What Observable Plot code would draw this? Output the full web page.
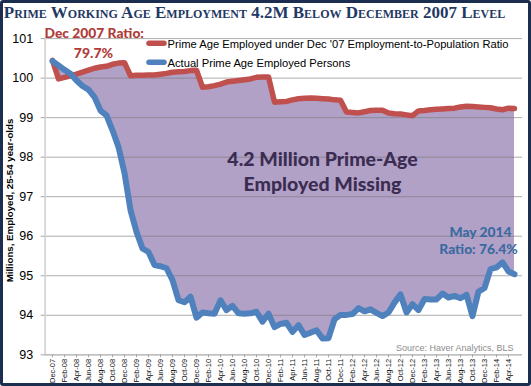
<!DOCTYPE html>
<html><head><meta charset="utf-8">
<script src="https://cdn.jsdelivr.net/npm/d3@7"></script>
<script src="https://cdn.jsdelivr.net/npm/@observablehq/plot@0.6"></script>
<style>
body{margin:0;background:#fff;}
#wrap{position:relative;width:531px;height:386px;overflow:hidden;}
#border{position:absolute;left:0;top:0;width:531px;height:386px;box-sizing:border-box;border:3px solid #1c2e50;border-radius:3px;pointer-events:none;}
</style></head><body>
<div id="wrap"><div id="chart"></div><div id="border"></div></div>
<script>
const months = ["Dec-07",
 "Jan-08","Feb-08","Mar-08","Apr-08","May-08","Jun-08","Jul-08","Aug-08","Sep-08","Oct-08","Nov-08","Dec-08",
 "Jan-09","Feb-09","Mar-09","Apr-09","May-09","Jun-09","Jul-09","Aug-09","Sep-09","Oct-09","Nov-09","Dec-09",
 "Jan-10","Feb-10","Mar-10","Apr-10","May-10","Jun-10","Jul-10","Aug-10","Sep-10","Oct-10","Nov-10","Dec-10",
 "Jan-11","Feb-11","Mar-11","Apr-11","May-11","Jun-11","Jul-11","Aug-11","Sep-11","Oct-11","Nov-11","Dec-11",
 "Jan-12","Feb-12","Mar-12","Apr-12","May-12","Jun-12","Jul-12","Aug-12","Sep-12","Oct-12","Nov-12","Dec-12",
 "Jan-13","Feb-13","Mar-13","Apr-13","May-13","Jun-13","Jul-13","Aug-13","Sep-13","Oct-13","Nov-13","Dec-13",
 "Jan-14","Feb-14","Mar-14","Apr-14","May-14"];

const tickLabels = ["Dec-07","Feb-08","Apr-08","Jun-08","Aug-08","Oct-08","Dec-08","Feb-09","Apr-09","Jun-09",
 "Aug-09","Oct-09","Dec-09","Feb-10","Apr-10","Jun-10","Aug-10","Oct-10","Dec-10","Feb-11","Apr-11","Jun-11",
 "Aug-11","Oct-11","Dec-11","Feb-12","Apr-12","Jun-12","Aug-12","Oct-12","Dec-12","Feb-13","Apr-13","Jun-13",
 "Aug-13","Oct-13","Dec-13","Feb-14","Apr-14"];

// Prime Age Employed under Dec '07 Employment-to-Population Ratio (millions)
const ratioSeries = [100.45,
 99.98,100.02,100.06,100.10,100.15,100.20,100.25,100.28,100.30,100.35,100.38,100.39,
 100.06,100.07,100.07,100.08,100.08,100.10,100.12,100.15,100.16,100.17,100.19,100.20,
 99.77,99.78,99.81,99.85,99.90,99.92,99.94,99.96,99.98,100.02,100.03,100.03,
 99.39,99.40,99.41,99.45,99.48,99.49,99.50,99.49,99.48,99.47,99.45,99.44,
 99.14,99.13,99.12,99.15,99.18,99.19,99.19,99.12,99.10,99.09,99.07,99.05,
 99.17,99.18,99.20,99.21,99.22,99.23,99.24,99.27,99.29,99.28,99.27,99.26,
 99.25,99.22,99.20,99.24,99.23];

// Actual Prime Age Employed Persons (millions)
const actualSeries = [100.43,
 100.32,100.21,100.11,99.94,99.80,99.71,99.52,99.18,99.06,98.68,98.26,97.60,
 96.66,96.11,95.69,95.60,95.27,95.24,95.19,94.89,94.38,94.33,94.47,93.94,
 94.07,94.05,94.04,94.38,94.13,94.24,94.05,94.04,94.05,94.09,93.84,94.04,
 93.70,93.78,93.81,93.58,93.75,93.50,93.56,93.62,93.41,93.42,93.90,94.01,
 94.01,94.03,94.18,94.10,94.15,94.06,93.98,94.07,94.32,94.53,94.07,94.28,
 94.13,94.41,94.40,94.40,94.55,94.45,94.49,94.43,94.52,93.98,94.60,94.69,
 95.17,95.21,95.34,95.11,95.04];

const yTicks = [93,94,95,96,97,98,99,100,101];

const titleText = "Prime Working Age Employment 4.2M Below December 2007 Level";
const yLabelText = "Millions, Employed, 25-54 year-olds";
const legendLabels = ["Prime Age Employed under Dec '07 Employment-to-Population Ratio", "Actual Prime Age Employed Persons"];
const legendColors = ["#c0504d", "#4f81bd"];
const decLabel = ["Dec 2007 Ratio:", "79.7%"];
const gapLabel = "4.2 Million Prime-Age\nEmployed Missing";
const mayLabel = ["May 2014", "Ratio: 76.4%"];
const sourceText = "Source: Haver Analytics, BLS";

const data = months.map((m, i) => ({month: m, ratio: ratioSeries[i], actual: actualSeries[i]}));

const ML = 44.6, MT = 38.1;
const sans = "'Liberation Sans', Arial, sans-serif";
const bold = "Lato, 'Open Sans', sans-serif";

const at = (x, y) => ({frameAnchor: "top-left", dx: x - ML, dy: y - MT});

const plot = Plot.plot({
  width: 531, height: 386,
  marginLeft: ML, marginRight: 9, marginTop: MT, marginBottom: 31.7,
  style: {fontFamily: sans, background: "transparent", overflow: "visible"},
  x: {type: "point", domain: months, padding: 0.5, axis: null},
  y: {domain: [93, 101], axis: null},
  marks: [
    Plot.areaY(data, {x: "month", y1: "actual", y2: "ratio", fill: "#b2a1c7"}),
    Plot.gridY(yTicks, {stroke: "#777", strokeOpacity: 0.6, strokeWidth: 1}),
    Plot.frame({anchor: "left", stroke: "#d9d9d9", strokeWidth: 2}),
    Plot.ruleY([93], {stroke: "#bfbfbf", strokeWidth: 1.5}),
    Plot.axisY(yTicks, {tickSize: 4, tickPadding: 8, fontSize: 12.5, stroke: "#a6a6a6", fill: "#000", label: null}),
    Plot.axisX(tickLabels, {tickRotate: -90, tickSize: 3, tickPadding: 1, fontSize: 7.5, stroke: "#a6a6a6", fill: "#111", label: null}),
    Plot.line(data, {x: "month", y: "ratio", stroke: legendColors[0], strokeWidth: 5.5, strokeLinejoin: "round", strokeLinecap: "round"}),
    Plot.line(data, {x: "month", y: "actual", stroke: legendColors[1], strokeWidth: 6, strokeLinejoin: "round", strokeLinecap: "round"}),
    // title
    Plot.text([titleText], {...at(254, 17.3), text: d => d, lineAnchor: "bottom", textAnchor: "middle",
      fontFamily: "'Liberation Serif', 'DejaVu Serif', serif", fontWeight: "bold", fontVariant: "small-caps", fontSize: 17, fill: "#1f3864"}),
    // y label
    Plot.text([yLabelText], {...at(9.5, 200), text: d => d, rotate: -90, lineAnchor: "middle", textAnchor: "middle",
      fontFamily: sans, fontWeight: "bold", fontSize: 9.7, fill: "#000"}),
    // legend text
    Plot.text([legendLabels[0]], {...at(167, 47.5), text: d => d, lineAnchor: "bottom", textAnchor: "start", fontSize: 11.2, fill: "#000"}),
    Plot.text([legendLabels[1]], {...at(167, 66.5), text: d => d, lineAnchor: "bottom", textAnchor: "start", fontSize: 11.2, fill: "#000"}),
    // Dec 2007 annotation
    Plot.text([decLabel[0]], {...at(44, 37), text: d => d, lineAnchor: "bottom", textAnchor: "start", fontFamily: bold, fontWeight: "900", fontSize: 13.8, fill: "#b03c38"}),
    Plot.text([decLabel[1]], {...at(93, 57), text: d => d, lineAnchor: "bottom", textAnchor: "middle", fontFamily: bold, fontWeight: "900", fontSize: 14, fill: "#b03c38"}),
    // gap annotation
    Plot.text([gapLabel], {...at(322, 190), text: d => d, lineAnchor: "bottom", textAnchor: "middle", lineHeight: 1.24, fontFamily: bold, fontWeight: "900", fontSize: 19.5, fill: "#3b2d52"}),
    // May 2014 annotation
    Plot.text([mayLabel[0]], {...at(480, 236), text: d => d, lineAnchor: "bottom", textAnchor: "middle", fontFamily: bold, fontWeight: "900", fontSize: 13.8, fill: "#3a6aa0"}),
    Plot.text([mayLabel[1]], {...at(478, 253), text: d => d, lineAnchor: "bottom", textAnchor: "middle", fontFamily: bold, fontWeight: "900", fontSize: 13.8, fill: "#3a6aa0"}),
    // source
    Plot.text([sourceText], {...at(513, 350), text: d => d, lineAnchor: "bottom", textAnchor: "end", fontSize: 9, fill: "#8c8c8c"})
  ]
});

// legend swatches
const svg = d3.select(plot);
const lg = svg.append("g").attr("stroke-linecap", "round");
legendColors.forEach((c, i) => {
  lg.append("line").attr("x1", 149).attr("x2", 164).attr("y1", 43.3 + i * 19).attr("y2", 43.3 + i * 19)
    .attr("stroke", c).attr("stroke-width", 5.5);
});

document.getElementById("chart").appendChild(plot);
</script>
</body></html>
